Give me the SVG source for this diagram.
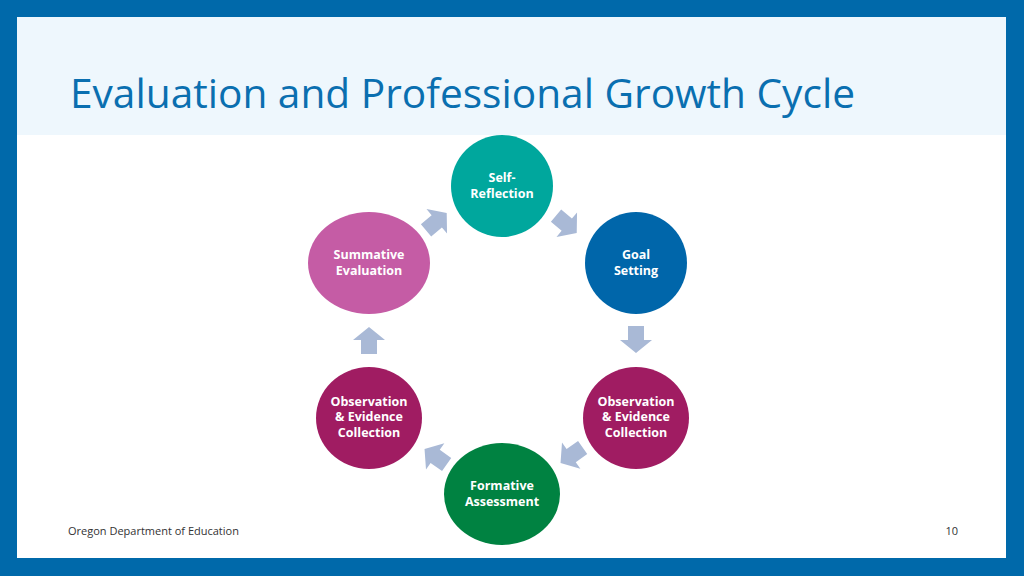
<svg xmlns="http://www.w3.org/2000/svg" width="1024" height="576" viewBox="0 0 1024 576">
<style>
.lbl{font-family:"Open Sans","Liberation Sans",sans-serif;font-weight:bold;font-size:12.5px;fill:#fff;text-anchor:middle}
.arr{fill:#a9b9d6}
.foot{font-family:"Open Sans","Liberation Sans",sans-serif;font-size:11px;fill:#333}
</style>
<defs><path id="a" d="M-13,-8 H1 V-16 L14,0 L1,16 V8 H-13 Z"/></defs>
<rect width="1024" height="576" fill="#0069aa"/>
<rect x="17" y="17" width="989" height="541" fill="#fff"/>
<rect x="17" y="17" width="989" height="118" fill="#eef7fd"/>
<text x="70" y="108" font-family="'Open Sans','Liberation Sans',sans-serif" font-size="40" fill="#0a6fb0" textLength="785" lengthAdjust="spacingAndGlyphs">Evaluation and Professional Growth Cycle</text>
<g id="connectors">
<use href="#a" class="arr" transform="translate(436,222) rotate(-40)"/>
<use href="#a" class="arr" transform="translate(566,224) rotate(40)"/>
<use href="#a" class="arr" transform="translate(636,339) rotate(90)"/>
<use href="#a" class="arr" transform="translate(572,455) rotate(145)"/>
<use href="#a" class="arr" transform="translate(436,457) rotate(-145)"/>
<use href="#a" class="arr" transform="translate(369,341) rotate(-90)"/>
</g>
<g id="self"><circle cx="502" cy="186" r="51" fill="#00a79d"/><text class="lbl" x="502" y="182">Self-</text><text class="lbl" x="502" y="198">Reflection</text></g>
<g id="goal"><circle cx="636" cy="263" r="51" fill="#0066aa"/><text class="lbl" x="636" y="259">Goal</text><text class="lbl" x="636" y="275">Setting</text></g>
<g id="obsR"><ellipse cx="636" cy="418" rx="53" ry="51" fill="#a01c62"/><text class="lbl" x="636" y="406">Observation</text><text class="lbl" x="636" y="421">&amp; Evidence</text><text class="lbl" x="636" y="437">Collection</text></g>
<g id="form"><ellipse cx="502" cy="494" rx="58" ry="51" fill="#008241"/><text class="lbl" x="502" y="490">Formative</text><text class="lbl" x="502" y="506">Assessment</text></g>
<g id="obsL"><ellipse cx="369" cy="418" rx="53" ry="51" fill="#a01c62"/><text class="lbl" x="369" y="406">Observation</text><text class="lbl" x="369" y="421">&amp; Evidence</text><text class="lbl" x="369" y="437">Collection</text></g>
<g id="summ"><ellipse cx="369" cy="263" rx="61" ry="51" fill="#c55ca5"/><text class="lbl" x="369" y="259">Summative</text><text class="lbl" x="369" y="275">Evaluation</text></g>
<text class="foot" x="68" y="535">Oregon Department of Education</text>
<text class="foot" x="958" y="535" text-anchor="end">10</text>
</svg>
